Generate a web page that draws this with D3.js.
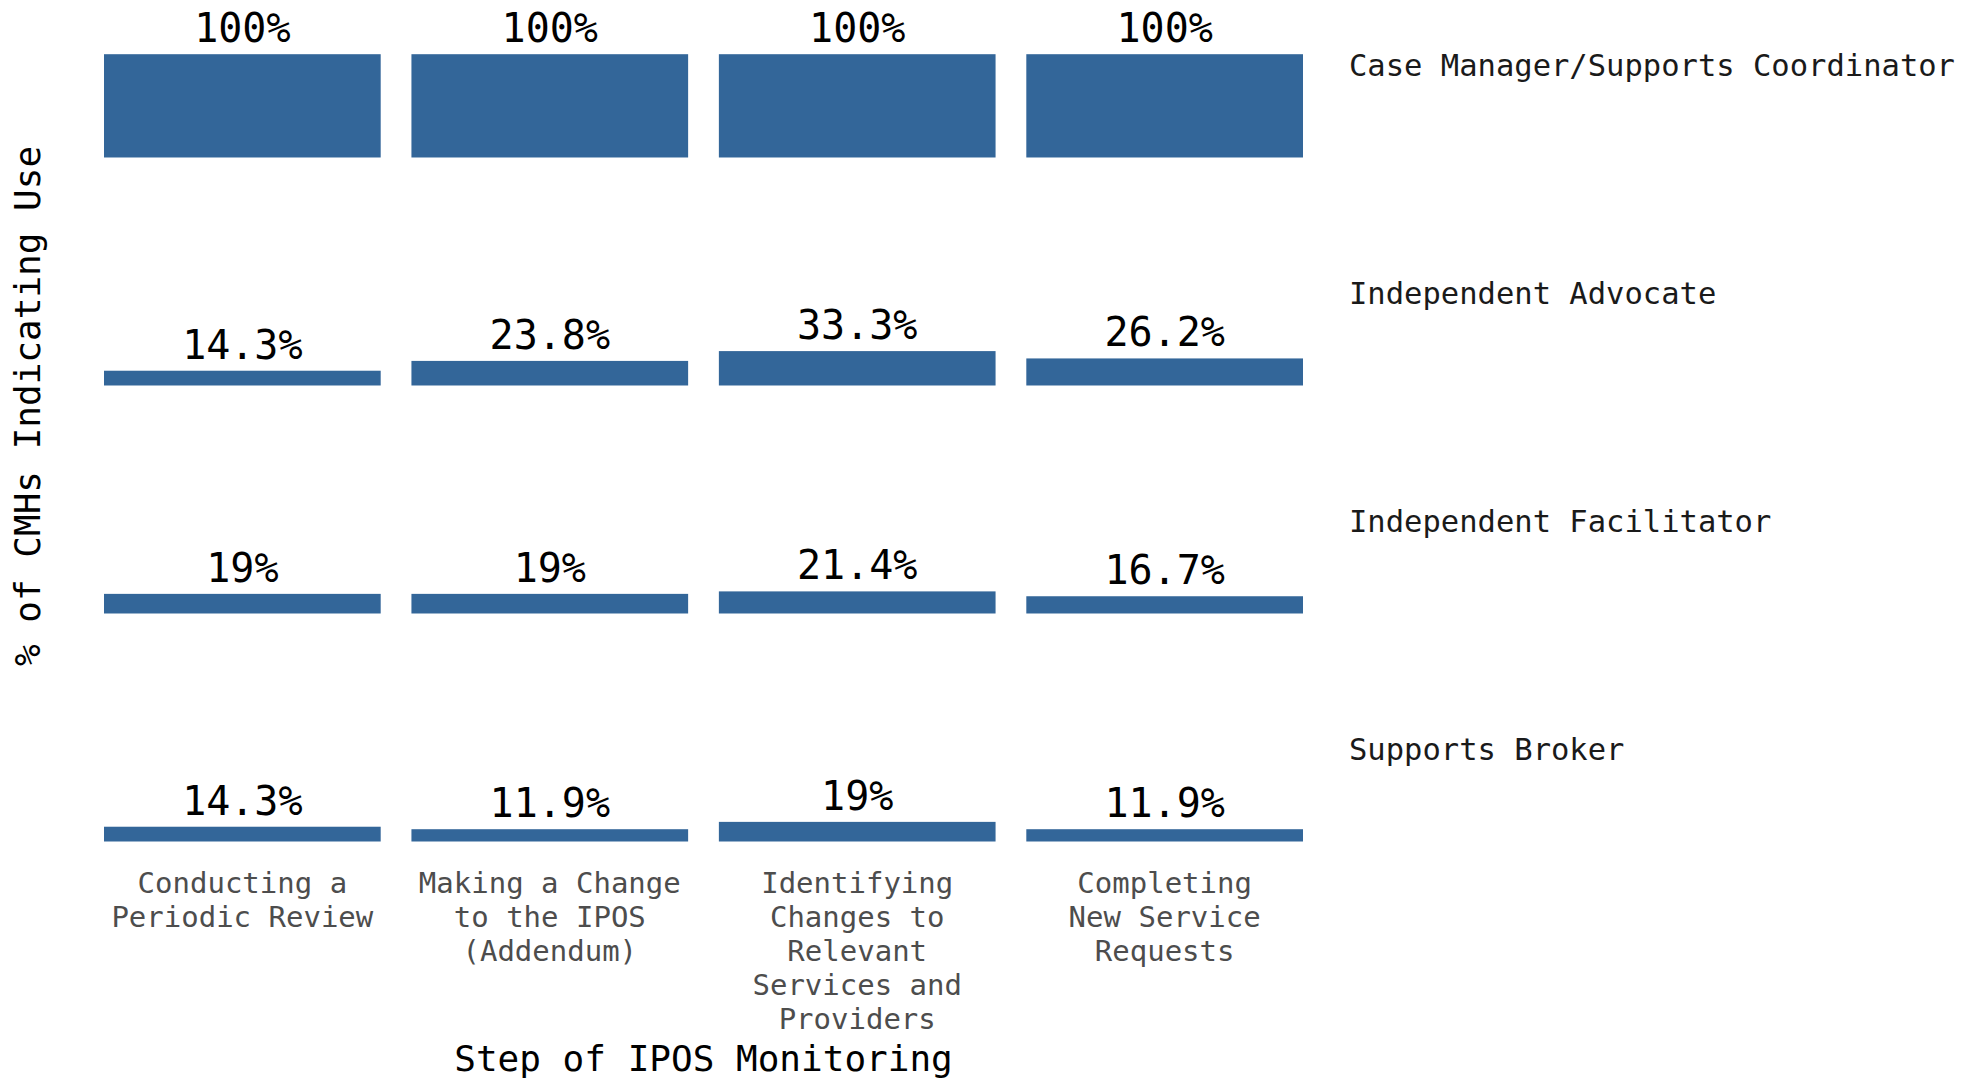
<!DOCTYPE html>
<html>
<head>
<meta charset="utf-8">
<script src="https://cdn.jsdelivr.net/npm/d3@7"></script>
<style>
  body { margin: 0; background: #fff; }
  text { font-family: 'DejaVu Sans Mono', monospace; }
</style>
</head>
<body>
<div id="chart"></div>
<script>
const steps = ['Conducting a Periodic Review', 'Making a Change to the IPOS (Addendum)',
  'Identifying Changes to Relevant Services and Providers', 'Completing New Service Requests']
const stepLines = [
  ['Conducting a', 'Periodic Review'],
  ['Making a Change', 'to the IPOS', '(Addendum)'],
  ['Identifying', 'Changes to', 'Relevant', 'Services and', 'Providers'],
  ['Completing', 'New Service', 'Requests']
]
const roles = ['Case Manager/Supports Coordinator', 'Independent Advocate', 'Independent Facilitator', 'Supports Broker']
const caseManager = [100, 100, 100, 100]
const advocate = [14.3, 23.8, 33.3, 26.2]
const facilitator = [19, 19, 21.4, 16.7]
const broker = [14.3, 11.9, 19, 11.9]
const seriesValues = [caseManager, advocate, facilitator, broker]

const width = 1975
const height = 1078

const svg = d3.select('#chart').append('svg')
  .attr('width', width)
  .attr('height', height)

const xScale = d3.scaleBand()
  .domain(steps)
  .range([104, 1303])
  .paddingInner(0.1)
  .paddingOuter(0)

// one row (facet) per role
const rowScale = d3.scaleBand()
  .domain(roles)
  .range([54.2, 841.5])
  .paddingInner(0.547)
  .paddingOuter(0)

const yScale = d3.scaleLinear()
  .domain([0, 100])
  .range([rowScale.bandwidth(), 0])

const fmt = v => (+v.toFixed(1)) + '%'

roles.forEach((role, i) => {
  const data = steps.map((s, j) => ({ step: s, value: seriesValues[i][j] }))
  const row = svg.append('g')
    .attr('transform', 'translate(0,' + rowScale(role) + ')')

  row.selectAll('.bar')
    .data(data)
    .enter().append('rect')
    .attr('class', 'bar')
    .attr('x', d => xScale(d.step))
    .attr('y', d => yScale(d.value))
    .attr('width', xScale.bandwidth())
    .attr('height', d => yScale(0) - yScale(d.value))
    .attr('fill', '#336699')

  row.selectAll('.val')
    .data(data)
    .enter().append('text')
    .attr('class', 'val')
    .attr('x', d => xScale(d.step) + xScale.bandwidth() / 2)
    .attr('y', d => yScale(d.value) - 12)
    .attr('text-anchor', 'middle')
    .attr('font-size', 40)
    .attr('fill', '#000')
    .text(d => fmt(d.value))

  // strip label on the right
  row.append('text')
    .attr('x', 1349)
    .attr('y', 22)
    .attr('font-size', 30.5)
    .attr('fill', '#1a1a1a')
    .text(role)
})

// x axis (labels only)
const xAxis = svg.append('g')
  .attr('transform', 'translate(0,' + (rowScale(roles[3]) + rowScale.bandwidth()) + ')')
  .call(d3.axisBottom(xScale).tickSize(0).tickFormat(''))
xAxis.select('.domain').remove()

xAxis.selectAll('.tick').each(function (d, i) {
  const t = d3.select(this).append('text')
    .attr('text-anchor', 'middle')
    .attr('font-size', 29)
    .attr('fill', '#4d4d4d')
  stepLines[i].forEach((line, k) => {
    t.append('tspan')
      .attr('x', 0)
      .attr('y', 51 + k * 34)
      .text(line)
  })
})

// axis titles
svg.append('text')
  .attr('x', (xScale.range()[0] + xScale.range()[1]) / 2)
  .attr('y', 1071)
  .attr('text-anchor', 'middle')
  .attr('font-size', 36)
  .attr('fill', '#000')
  .text('Step of IPOS Monitoring')

svg.append('text')
  .attr('transform', 'translate(40,406) rotate(-90)')
  .attr('text-anchor', 'middle')
  .attr('font-size', 36)
  .attr('fill', '#000')
  .text('% of CMHs Indicating Use')
</script>
</body>
</html>
